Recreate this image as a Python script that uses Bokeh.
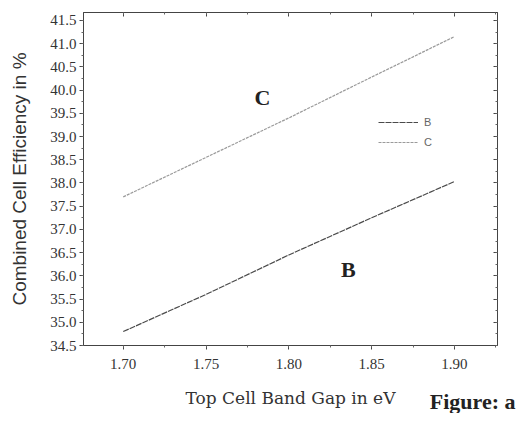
from bokeh.plotting import figure
from bokeh.models import (Range1d, SingleIntervalTicker, NumeralTickFormatter, LinearAxis,
                          Legend, LegendItem, Label, CustomJSTickFormatter, Title)
from bokeh.embed import file_html
from bokeh.resources import INLINE

band_gap = [1.70, 1.75, 1.80, 1.85, 1.90]
eff_B = [34.80, 35.60, 36.45, 37.25, 38.03]
eff_C = [37.70, 38.55, 39.40, 40.28, 41.15]
x_label = "Top Cell Band Gap in eV"
y_label = "Combined Cell Efficiency in %"

p = figure(width=517, height=413, output_backend="svg", toolbar_location=None,
           x_range=Range1d(1.676, 1.926), y_range=Range1d(34.5, 41.67),
           min_border_left=83, min_border_right=20, min_border_top=12, min_border_bottom=68)
p.grid.visible = False
p.outline_line_color = "#555555"
p.background_fill_color = "white"
p.border_fill_color = "white"

serif = "Liberation Serif"
p.xaxis.ticker = SingleIntervalTicker(interval=0.05, num_minor_ticks=2)
p.yaxis.ticker = SingleIntervalTicker(interval=0.5, num_minor_ticks=2)
p.xaxis.formatter = NumeralTickFormatter(format="0.00")
p.yaxis.formatter = NumeralTickFormatter(format="0.0")
for ax in (p.xaxis[0], p.yaxis[0]):
    ax.axis_line_color = "#444444"
    ax.major_tick_line_color = "#444444"
    ax.minor_tick_line_color = "#666666"
    ax.major_tick_out = 4
    ax.major_tick_in = 0
    ax.minor_tick_out = 2
    ax.minor_tick_in = 0
    ax.major_label_text_font = serif
    ax.major_label_text_font_size = "15px"
    ax.major_label_text_color = "#333333"
p.xaxis.major_label_standoff = 9
p.yaxis.major_label_standoff = 3
p.xaxis.axis_label = x_label
p.xaxis.axis_label_text_font = "DejaVu Serif"
p.xaxis.axis_label_text_font_style = "normal"
p.xaxis.axis_label_text_font_size = "17px"
p.xaxis.axis_label_text_color = "#333333"
p.xaxis.axis_label_standoff = 16
p.yaxis.axis_label = y_label
p.yaxis.axis_label_text_font = "Liberation Sans"
p.yaxis.axis_label_text_font_style = "normal"
p.yaxis.axis_label_text_font_size = "19px"
p.yaxis.axis_label_text_color = "#333333"
p.yaxis.axis_label_standoff = 17

blank = CustomJSTickFormatter(code="return ''")
top = LinearAxis(ticker=SingleIntervalTicker(interval=0.05, num_minor_ticks=2),
                 formatter=blank, major_label_standoff=0, major_tick_in=4, major_tick_out=0,
                 minor_tick_in=2, minor_tick_out=0, axis_line_color="#444444",
                 major_tick_line_color="#444444", minor_tick_line_color="#666666")
right = LinearAxis(ticker=SingleIntervalTicker(interval=0.5, num_minor_ticks=2),
                   formatter=blank, major_label_standoff=0, major_tick_in=4, major_tick_out=0,
                   minor_tick_in=2, minor_tick_out=0, axis_line_color="#444444",
                   major_tick_line_color="#444444", minor_tick_line_color="#666666")
p.add_layout(top, "above")
p.add_layout(right, "right")

rB = p.line(band_gap, eff_B, line_color="#4a4a4a", line_width=1.2, line_dash="6 1")
rC = p.line(band_gap, eff_C, line_color="#9a9a9a", line_width=1.2, line_dash="3 1")

legend = Legend(items=[LegendItem(label="B", renderers=[rB]), LegendItem(label="C", renderers=[rC])],
                location=(295, 193), background_fill_alpha=0, border_line_alpha=0,
                padding=0, margin=0, glyph_width=40, glyph_height=20, label_height=20,
                spacing=0, label_standoff=6, label_text_font="Liberation Sans",
                label_text_font_size="11px", label_text_color="#666666")
p.add_layout(legend, "center")

p.add_layout(Label(x=1.784, y=39.83, text="C", text_font=serif, text_font_size="22px",
                   text_font_style="bold", text_align="center", text_baseline="middle",
                   text_color="#222222"))
p.add_layout(Label(x=1.836, y=36.14, text="B", text_font=serif, text_font_size="22px",
                   text_font_style="bold", text_align="center", text_baseline="middle",
                   text_color="#222222"))
fig_title = Title(text="Figure: a", align="right", vertical_align="top", text_font=serif,
                  text_font_size="22px", text_font_style="bold", text_color="#222222",
                  standoff=-44, offset=-18)
p.add_layout(fig_title, "below")

open("out.html", "w").write(file_html(p, INLINE))
